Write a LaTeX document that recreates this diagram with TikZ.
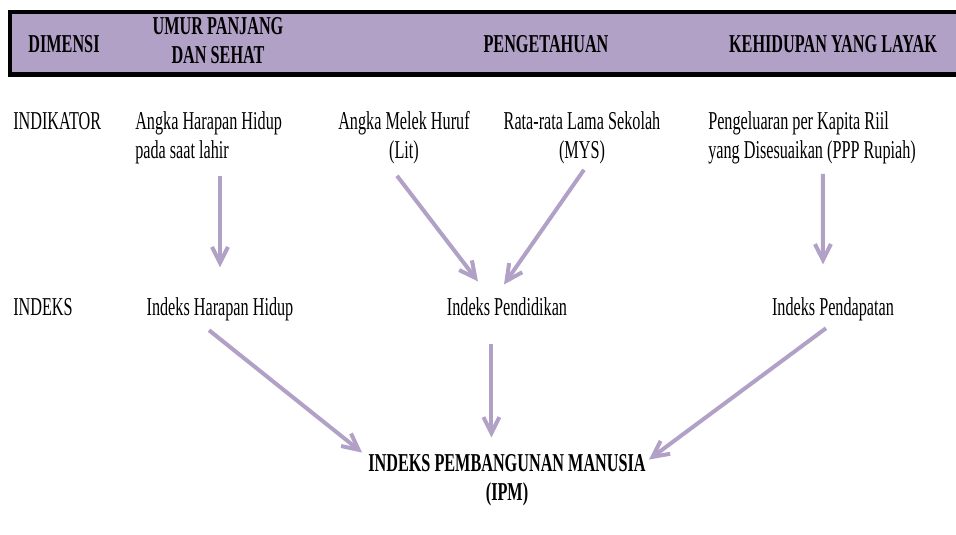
\documentclass[tikz,border=0pt]{standalone}
\usepackage{fontspec}
\setmainfont{Liberation Serif}[FakeStretch=0.63]
\usetikzlibrary{arrows.meta}
\definecolor{lavender}{HTML}{B2A1C7}

\begin{document}
\begin{tikzpicture}[
    txt/.style={inner sep=0pt, font=\fontsize{18.3}{20.3}\selectfont},
    hdr/.style={inner sep=0pt, font=\fontsize{18.3}{20.3}\selectfont\bfseries},
    arw/.style={draw=lavender, line width=0.1cm, -{Straight Barb[length=0.4cm,width=0.4cm]}}
]
    \useasboundingbox (0,0) rectangle (23.9,-13.35);
    \fill[lavender] (0.25,-0.3) rectangle (23.9,-1.86);
    \draw[line width=0.1cm] (0.2,-0.3) -- (23.9,-0.3);
    \draw[line width=0.125cm] (0.25,-1.86) -- (23.9,-1.86);
    \draw[line width=0.08cm] (0.25,-0.25) -- (0.25,-1.92);

    \node[hdr, anchor=base] (dim) at (1.6,-1.3) {DIMENSI};
    \node[hdr, anchor=base, align=center] (umur) at (5.45,-1.575) {UMUR PANJANG\\DAN SEHAT};
    \node[hdr, anchor=base] (tahu) at (13.65,-1.3) {PENGETAHUAN};
    \node[hdr, anchor=base] (layak) at (20.825,-1.3) {KEHIDUPAN YANG LAYAK};

    \node[txt, anchor=base west] (indikator) at (0.325,-3.225) {INDIKATOR};
    \node[txt, anchor=base west, align=left] (ahh) at (3.375,-3.95) {Angka Harapan Hidup\\pada saat lahir};
    \node[txt, anchor=base, align=center] (lit) at (10.1,-3.95) {Angka Melek Huruf\\(Lit)};
    \node[txt, anchor=base, align=center] (mys) at (14.55,-3.95) {Rata-rata Lama Sekolah\\(MYS)};
    \node[txt, anchor=base west, align=left] (pkr) at (17.7,-3.95) {Pengeluaran per Kapita Riil\\yang Disesuaikan (PPP Rupiah)};

    \node[txt, anchor=base west] (indeks) at (0.325,-7.875) {INDEKS};
    \node[txt, anchor=base] (ihh) at (5.5,-7.875) {Indeks Harapan Hidup};
    \node[txt, anchor=base] (ipd) at (12.675,-7.875) {Indeks Pendidikan};
    \node[txt, anchor=base] (ipdp) at (20.825,-7.875) {Indeks Pendapatan};

    \node[hdr, anchor=base, align=center] (ipm) at (12.675,-12.5) {INDEKS PEMBANGUNAN MANUSIA\\(IPM)};

    \draw[arw, shorten <=0.3cm, shorten >=0.736cm] (ahh.south -| ihh.north) -- (ihh.north);
    \draw[arw] ([shift={(-0.175,-0.3)}]lit.south) -- ([shift={(-0.725,0.386)}]ipd.north);
    \draw[arw] ([shift={(0.05,-0.15)}]mys.south) -- ([shift={(-0.075,0.311)}]ipd.north);
    \draw[arw] ([shift={(0.27,-0.25)}]pkr.south) -- ([shift={(-0.25,0.81)}]ipdp.north);
    \draw[arw] ([shift={(-0.275,-0.236)}]ihh.south) -- ([shift={(-0.15,0.04)}]ipm.north west);
    \draw[arw] ([shift={(-0.39,-0.7)}]ipd.south) -- ([shift={(-0.39,0.415)}]ipm.north);
    \draw[arw] ([shift={(-0.175,-0.186)}]ipdp.south) -- ([shift={(0.075,-0.135)}]ipm.north east);
\end{tikzpicture}
\end{document}
